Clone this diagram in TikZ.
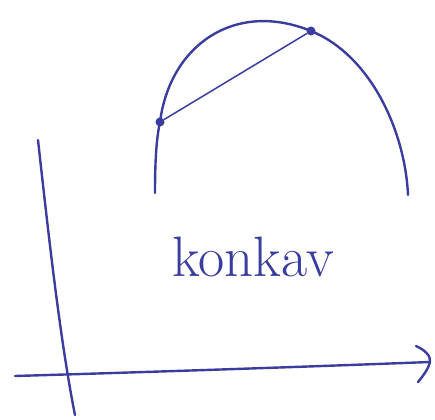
\documentclass[tikz,border=0pt]{standalone}
\usetikzlibrary{arrows.meta}
\definecolor{ink}{HTML}{3A3C9E}
\begin{document}
\begin{tikzpicture}[x=1pt,y=-1pt,
  pen/.style={draw=ink,line width=2.4pt,line cap=round,line join=round},
  thin pen/.style={draw=ink,line width=1.5pt,line cap=round},
  pt/.style={circle,fill=ink,inner sep=0pt,minimum size=9pt},
  lab/.style={text=ink,font=\fontsize{57}{57}\selectfont}]
\useasboundingbox (0,0) rectangle (435,419);
% axes
\coordinate (ya) at (38,140);
\coordinate (yb) at (75,415);
\draw[pen] (ya) .. controls (48,230) and (60,340) .. (yb);
\coordinate (xa) at (15,376);
\coordinate (xb) at (430,362);
\draw[pen] (xa) .. controls (150,372) and (300,367) .. (xb);
\draw[pen] (416,346) .. controls (425,350) and (431,356) .. (xb) .. controls (428,370) and (422,377) .. (418,382);
% curve
\node[pt] (p1) at (160,122) {};
\node[pt] (p2) at (311,31) {};
\draw[pen] (155,193) .. controls (155,165) and (156,140) .. (p1.center)
  .. controls (170,45) and (235,0) .. (p2.center)
  .. controls (370,55) and (405,130) .. (408,195);
\draw[thin pen] (p1) -- (p2);
\node[lab] (t) at (253,257) {konkav};
\end{tikzpicture}
\end{document}
